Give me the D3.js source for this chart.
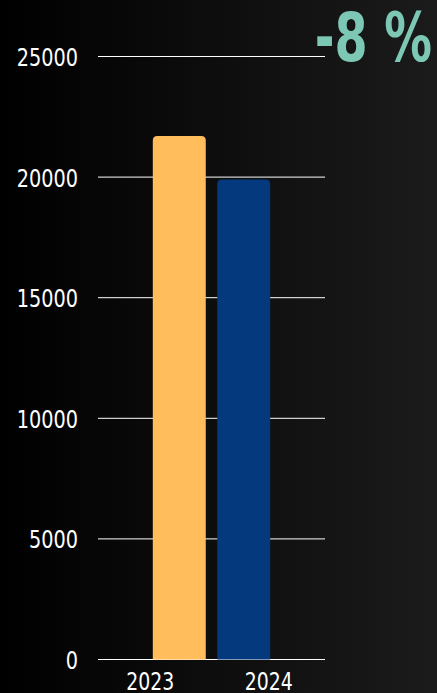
<!DOCTYPE html>
<html><head><meta charset="utf-8">
<script src="https://cdn.jsdelivr.net/npm/d3@7"></script>
<style>html,body{margin:0;padding:0;background:#000;}svg{display:block;}</style>
</head><body>
<svg id="c" width="437" height="693"></svg>
<script>
const categories = ["2023", "2024"];
const values = [21700, 19900];
const yTicks = [0, 5000, 10000, 15000, 20000, 25000];
const changeLabel = "-8 %";
const colors = ["#FFBE5B", "#05397D"];

const W = 437, H = 693;
const FONT = "'DejaVu Sans Condensed','DejaVu Sans',sans-serif";
const SX = 0.84;
const svg = d3.select("#c");
const defs = svg.append("defs");
const g = defs.append("linearGradient").attr("id","bg").attr("x1","0").attr("x2","1").attr("y1","0").attr("y2","0");
g.append("stop").attr("offset","0").attr("stop-color","#000000");
g.append("stop").attr("offset","1").attr("stop-color","#1b1b1b");
svg.append("rect").attr("width",W).attr("height",H).attr("fill","url(#bg)");

const y = d3.scaleLinear().domain([0,25000]).range([659.5,56.5]);
const x = d3.scaleBand().domain(categories).range([147,276]).paddingInner(0.178).paddingOuter(0.09);
const xAxis = d3.scaleBand().domain(categories).range([91,328]);

svg.append("g").selectAll("line").data(yTicks).join("line")
  .attr("x1",98).attr("x2",325)
  .attr("y1",d=>y(d)).attr("y2",d=>y(d))
  .attr("stroke","#ffffff").attr("stroke-width",1);

svg.append("g").selectAll("g").data(yTicks).join("g")
  .attr("transform",d=>`translate(78,${y(d)+9.5}) scale(${SX},1)`)
  .append("text")
  .attr("text-anchor","end").attr("fill","#ffffff")
  .attr("font-family",FONT).attr("font-size",25.5)
  .text(d=>d);

const r = 4.5;
function barPath(x0,w,yTop,yBase){
  return `M${x0},${yBase}V${yTop+r}Q${x0},${yTop} ${x0+r},${yTop}H${x0+w-r}Q${x0+w},${yTop} ${x0+w},${yTop+r}V${yBase}Z`;
}
svg.append("g").selectAll("path").data(categories).join("path")
  .attr("d",(d,i)=>barPath(x(d),x.bandwidth(),y(values[i]),y(0)))
  .attr("fill",(d,i)=>colors[i]);

svg.append("g").selectAll("g").data(categories).join("g")
  .attr("transform",d=>`translate(${xAxis(d)+xAxis.bandwidth()/2},689.5) scale(${SX},1)`)
  .append("text")
  .attr("text-anchor","middle").attr("fill","#ffffff")
  .attr("font-family",FONT).attr("font-size",25)
  .text(d=>d);

svg.append("g").attr("transform","translate(432,61) scale(0.79,1)")
  .append("text").attr("text-anchor","end")
  .attr("fill","#7CC8B4").attr("font-weight","bold")
  .attr("font-family",FONT).attr("font-size",67)
  .text(changeLabel);
</script>
</body></html>
